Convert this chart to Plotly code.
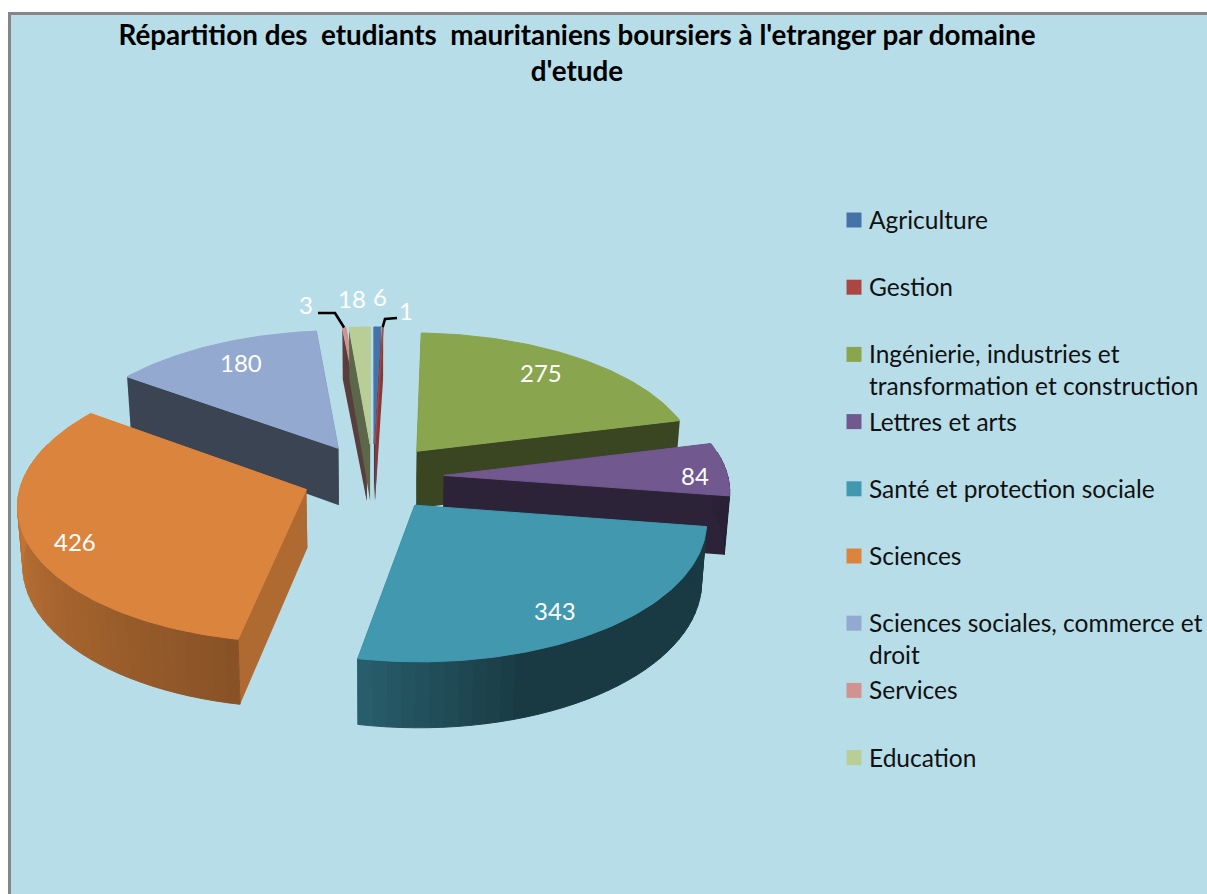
import math
import plotly.graph_objects as go

# ---- data ----
categories = ["Agriculture", "Gestion", "Ingénierie, industries et<br>transformation et construction",
              "Lettres et arts", "Santé et protection sociale", "Sciences",
              "Sciences sociales, commerce et<br>droit", "Services", "Education"]
values = [6, 1, 275, 84, 343, 426, 180, 3, 18]
title_text = "Répartition des\u00a0 etudiants\u00a0 mauritaniens boursiers à l'etranger par domaine<br>d'etude"

# ---- style ----
colors = ["#4572A7", "#AA4643", "#89A54E", "#71588F", "#4198AF", "#DB843D", "#93A9CF", "#D19392", "#B9CD96"]
cut_shade = [0.6, 0.8, 0.42, 0.4, 0.4, 0.8, 0.4, 0.42, 0.5]
draw_order = [7, 8, 0, 1, 2, 3, 4, 6, 5]
BG = "#B7DDE8"
FONT = "Lato"
W, H = 1207, 894
CX, CY, RX, RY, PERSP, DEPTH, EXPLODE = 373, 477, 284, 135, 10.0, 58, 0.25
label_px = [(380, 296), (406, 310), (541, 372), (695, 475), (555, 610), (75, 541), (241, 362), (306, 304), (352, 298)]


def project(gx, gy, lower=False):
    s = PERSP / (PERSP + gy)
    x = RX * gx * s
    y = CY - RY * gy * s
    if lower:
        x *= 0.985
        y += DEPTH * s
    return CX + x, y


def shade(hex_color, f):
    r, g, b = int(hex_color[1:3], 16), int(hex_color[3:5], 16), int(hex_color[5:7], 16)
    return f"rgb({r*f:.0f},{g*f:.0f},{b*f:.0f})"


def wall_factor(deg):
    if deg < 191:
        return max(0.38, 0.62 - (191 - deg) * 0.008)
    return min(0.88, 0.62 + (deg - 191) * 0.0033)


def poly(fig, pts, color, edge=0):
    xs = [p[0] for p in pts] + [pts[0][0]]
    ys = [p[1] for p in pts] + [pts[0][1]]
    fig.add_trace(go.Scatter(x=xs, y=ys, mode="lines", fill="toself", fillcolor=color,
                             line=dict(color=color, width=edge), hoverinfo="skip", showlegend=False))


total = sum(values)
starts, ends = [], []
acc = 0.0
for v in values:
    starts.append(acc * 360 / total)
    acc += v
    ends.append(acc * 360 / total)

fig = go.Figure()
outer_mid = {}
for i in draw_order:
    a0, a1 = starts[i], ends[i]
    mid = math.radians((a0 + a1) / 2)
    tx, ty = EXPLODE * math.sin(mid), EXPLODE * math.cos(mid)
    def outer(deg):
        t = math.radians(deg)
        return tx + math.sin(t), ty + math.cos(t)
    outer_mid[i] = project(*outer((a0 + a1) / 2))
    cut = shade(colors[i], cut_shade[i])
    for deg in (a0, a1):
        ox, oy = outer(deg)
        poly(fig, [project(tx, ty), project(ox, oy), project(ox, oy, True), project(tx, ty, True)], cut, 0)
    # outer wall, in thin shaded strips (only where it faces the viewer)
    lo, hi = max(a0, 80), min(a1, 290)
    if hi > lo:
        n = max(1, int((hi - lo) / 2.5))
        for k in range(n):
            d0 = lo + (hi - lo) * k / n
            d1 = lo + (hi - lo) * (k + 1) / n
            f = wall_factor((d0 + d1) / 2)
            p0, p1 = outer(d0), outer(d1)
            poly(fig, [project(*p0), project(*p1), project(*p1, True), project(*p0, True)], shade(colors[i], f), 1)
    # top face
    n = max(2, int((a1 - a0) / 1.0))
    top = [project(tx, ty)] + [project(*outer(a0 + (a1 - a0) * k / n)) for k in range(n + 1)]
    poly(fig, top, colors[i], 1)

# leader lines for the two smallest labels
for idx, start, elbow in ((7, (318, 313), (335, 313)), (1, (397, 318), (385, 319))):
    end = outer_mid[idx]
    fig.add_trace(go.Scatter(x=[start[0], elbow[0], end[0]], y=[start[1], elbow[1], end[1]], mode="lines",
                             line=dict(color="black", width=2.6), hoverinfo="skip", showlegend=False))

# legend swatches
legend_y = [220 + 67.2 * i for i in range(len(categories))]
fig.add_trace(go.Scatter(x=[854] * len(categories), y=legend_y, mode="markers",
                         marker=dict(symbol="square", size=15, color=colors), hoverinfo="skip", showlegend=False))

annotations = []
for name, y in zip(categories, legend_y):
    annotations.append(dict(x=867, y=y - 17, xref="x", yref="y", text=name, showarrow=False, xanchor="left",
                            yanchor="top", align="left", font=dict(family=FONT, size=24.5, color="#111111")))
for v, (x, y) in zip(values, label_px):
    annotations.append(dict(x=x, y=y, xref="x", yref="y", text=str(v), showarrow=False,
                            font=dict(family=FONT, size=24, color="white")))

fig.update_layout(
    width=W, height=H, margin=dict(l=0, r=0, t=0, b=0),
    paper_bgcolor="white", plot_bgcolor="rgba(0,0,0,0)", showlegend=False,
    title=dict(text=title_text, x=577 / W, xanchor="center", y=1 - 45 / H, yanchor="top", yref="container",
               font=dict(family=FONT, size=27.8, color="black", weight="bold")),
    xaxis=dict(range=[0, W], visible=False, fixedrange=True),
    yaxis=dict(range=[H, 0], visible=False, fixedrange=True),
    annotations=annotations,
    shapes=[dict(type="rect", layer="below", xref="x", yref="y", x0=9.5, y0=13.5, x1=W + 10, y1=H + 10,
                 fillcolor=BG, line=dict(color="#868686", width=3))],
)
fig.write_html("out.html", config={"displayModeBar": False},
               post_script="document.body.style.margin='0';document.body.style.overflow='hidden';"
                           "document.body.style.fontVariantLigatures='none';")
